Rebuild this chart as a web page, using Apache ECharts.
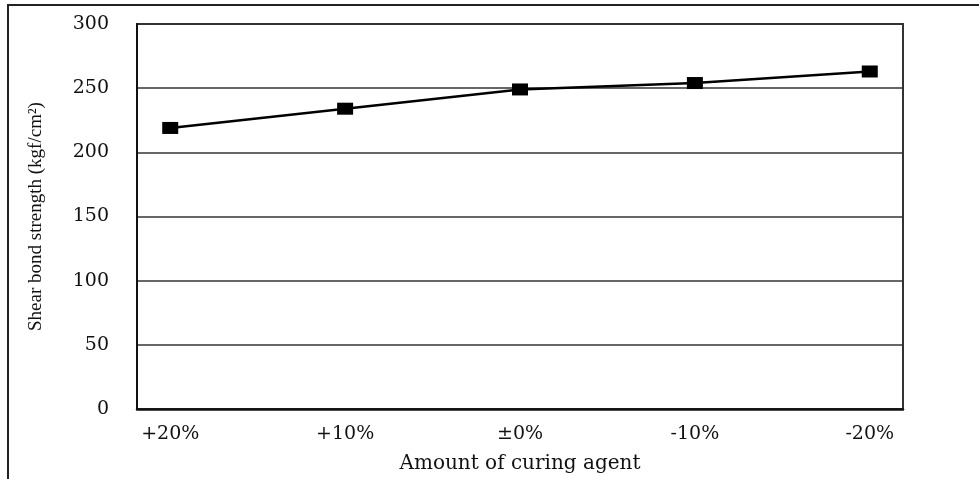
<!DOCTYPE html>
<html>
<head>
<meta charset="utf-8">
<script src="https://cdn.jsdelivr.net/npm/echarts@6/dist/echarts.min.js"></script>
<style>
html,body{margin:0;padding:0;background:#fff;}
#chart{width:979px;height:479px;}
</style>
</head>
<body>
<div id="chart"></div>
<script>
// Shear bond strength vs. amount of curing agent
const categories = ['+20%', '+10%', '\u00b10%', '-10%', '-20%'];
const strength = [219, 234, 249, 254, 263];
const yTicks = [0, 50, 100, 150, 200, 250, 300];

const serif = '"DejaVu Serif", "Liberation Serif", serif';
const times = '"Liberation Serif", "DejaVu Serif", serif';
const chart = echarts.init(document.getElementById('chart'));

chart.setOption({
  backgroundColor: '#fff',
  animation: false,
  graphic: [{
    type: 'rect',
    shape: { x: 8, y: 5, width: 1000, height: 500 },
    style: { fill: 'none', stroke: '#222', lineWidth: 2 },
    silent: true
  }],
  grid: {
    left: 137, right: 76, top: 24, bottom: 68,
    show: true, borderColor: '#333', borderWidth: 2, backgroundColor: 'transparent'
  },
  xAxis: {
    type: 'value',
    min: -0.19, max: 4.19,
    name: 'Amount of curing agent',
    nameLocation: 'middle',
    nameGap: 45,
    nameTextStyle: { fontFamily: serif, fontSize: 20, color: '#111' },
    axisLine: { show: true, lineStyle: { color: '#111', width: 2.5 } },
    axisTick: { show: false },
    splitLine: { show: false },
    axisLabel: {
      customValues: categories.map((c, i) => i),
      formatter: v => categories[Math.round(v)],
      fontFamily: serif, fontSize: 19, color: '#111', margin: 16
    }
  },
  yAxis: {
    type: 'value',
    min: yTicks[0], max: yTicks[yTicks.length - 1], interval: 50,
    name: 'Shear bond strength (kgf/cm\u00b2)',
    nameLocation: 'middle',
    nameGap: 91,
    nameRotate: 90,
    nameTextStyle: { fontFamily: times, fontSize: 19, color: '#111' },
    axisLine: { show: true, onZero: false, lineStyle: { color: '#111', width: 2 } },
    axisTick: { show: false },
    splitLine: { show: true, lineStyle: { color: '#333', width: 1.5 } },
    axisLabel: { fontFamily: serif, fontSize: 19, color: '#111', margin: 28 }
  },
  series: [{
    type: 'line',
    data: strength.map((v, i) => [i, v]),
    symbol: 'rect',
    symbolSize: [16, 12],
    itemStyle: { color: '#000' },
    lineStyle: { color: '#000', width: 2.5 }
  }]
});
</script>
</body>
</html>
